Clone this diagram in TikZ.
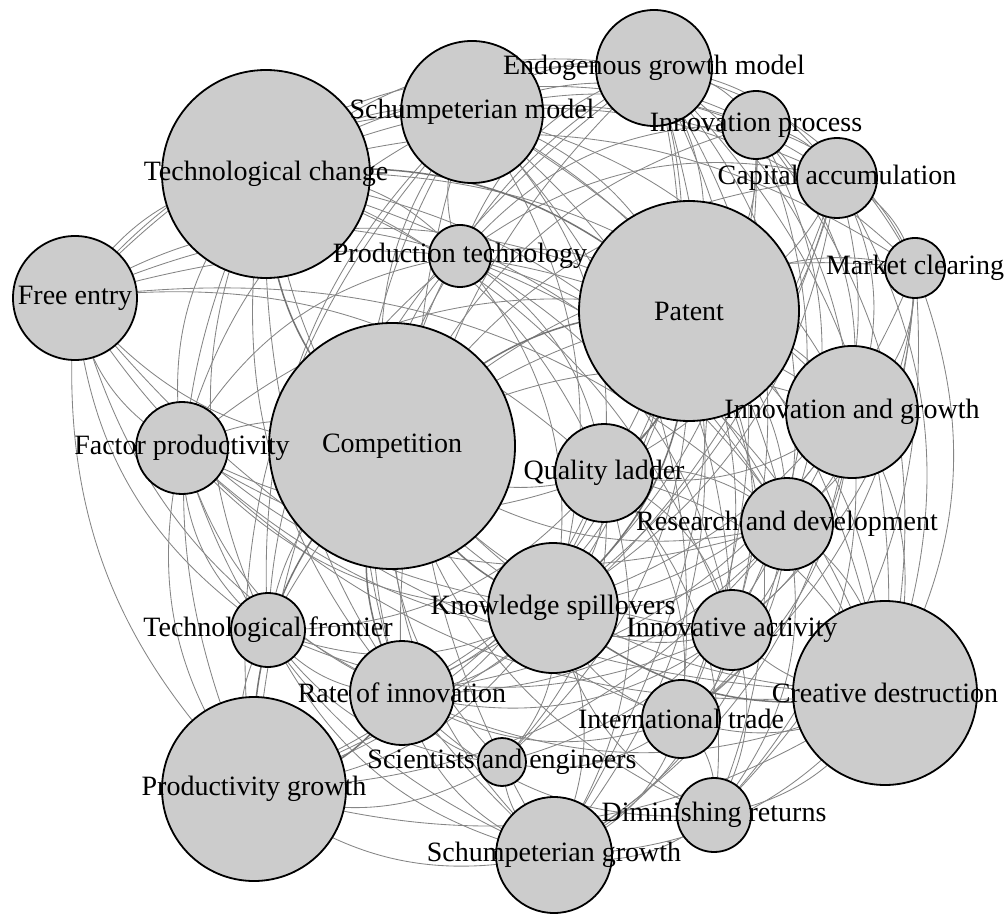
\documentclass[tikz,border=0pt]{standalone}
\usepackage{fontspec}
\setmainfont{Liberation Serif}
\usetikzlibrary{backgrounds}
\tikzset{
  vtx/.style={circle, draw=black, line width=1.8pt, fill=gray!40, inner sep=0pt},
  lbl/.style={inner sep=0pt, text=black, font=\fontsize{28}{30}\selectfont},
  edge/.style={draw=black!48, line width=0.85pt},
  thick edge/.style={draw=black!55, line width=1.5pt}
}
\begin{document}
\begin{tikzpicture}[x=100pt,y=100pt]
\useasboundingbox (0,0) rectangle (10.08,9.14);
% vertices
\foreach \n/\x/\y/\r in {
  tc/2.66/7.40/104, sm/4.72/8.02/71, eg/6.54/8.46/58, ip/7.56/7.89/34,
  ca/8.37/7.36/40, mc/9.15/6.46/30, pa/6.89/6.03/110, fe/0.75/6.16/62,
  pt/4.60/6.58/31, co/3.92/4.68/123, fp/1.82/4.66/46, ig/8.52/5.02/66,
  ql/6.04/4.41/49, rd/7.87/3.90/46, ks/5.53/3.06/65, tf/2.68/2.84/37,
  ia/7.32/2.84/40, cd/8.85/2.21/92, ri/4.02/2.21/52, it/6.81/1.95/39,
  se/5.02/1.52/24, pg/2.54/1.25/92, dr/7.14/0.99/37, sg/5.54/0.59/58}{
  \expandafter\xdef\csname X\n\endcsname{\x}
  \expandafter\xdef\csname Y\n\endcsname{\y}
  \node[vtx, minimum size=\r*2pt] (\n) at (\x,\y) {};
}
% edges (behind the vertices)
\begin{pgfonlayer}{background}
\foreach \a/\b in {
  tc/sm, tc/eg, tc/ip, tc/ca, tc/fe, tc/pt, tc/fp, tc/ig, tc/ql, tc/rd, tc/ks, tc/tf, tc/ia, tc/cd, tc/ri, tc/pg, tc/sg, tc/mc,
  sm/eg, sm/ip, sm/ca, sm/mc, sm/pa, sm/fe, sm/pt, sm/co, sm/fp, sm/ig, sm/ql, sm/rd, sm/ks, sm/tf, sm/ia, sm/cd, sm/ri, sm/it, sm/pg, sm/sg,
  eg/ip, eg/ca, eg/mc, eg/pa, eg/pt, eg/co, eg/fe, eg/ig, eg/ql, eg/rd, eg/ks, eg/ia, eg/cd, eg/ri, eg/it, eg/pg, eg/sg,
  ip/ca, ip/pa, ip/pt, ip/co, ip/ig, ip/ql, ip/rd, ip/ks, ip/ia, ip/cd, ip/mc,
  ca/mc, ca/pa, ca/pt, ca/co, ca/ig, ca/ql, ca/rd, ca/ks, ca/cd, ca/ri, ca/pg,
  mc/pa, mc/ig, mc/rd, mc/cd, mc/ia, mc/ks, mc/co, mc/dr, mc/it,
  pa/fe, pa/pt, pa/fp, pa/ig, pa/rd, pa/tf, pa/ia, pa/cd, pa/ri, pa/it, pa/se, pa/pg, pa/dr, pa/sg,
  fe/pt, fe/co, fe/fp, fe/ig, fe/ql, fe/rd, fe/ks, fe/tf, fe/ri, fe/pg, fe/cd,
  pt/co, pt/fp, pt/ql, pt/ks, pt/ri, pt/rd, pt/ia, pt/cd, pt/tf,
  co/fp, co/ig, co/ql, co/rd, co/tf, co/ia, co/cd, co/it, co/se, co/dr, co/sg,
  fp/ql, fp/ks, fp/tf, fp/ri, fp/rd, fp/pg, fp/sg, fp/ia, fp/cd,
  ig/ql, ig/rd, ig/ks, ig/ia, ig/cd, ig/ri, ig/it, ig/dr, ig/sg,
  ql/rd, ql/ks, ql/tf, ql/ia, ql/cd, ql/ri, ql/it, ql/se, ql/pg, ql/sg, ql/dr,
  rd/ks, rd/ia, rd/cd, rd/ri, rd/it, rd/se, rd/pg, rd/dr, rd/sg,
  ks/tf, ks/ia, ks/ri, ks/it, ks/se, ks/pg, ks/dr, ks/sg,
  tf/ri, tf/pg, tf/sg, tf/ia, tf/se,
  ia/cd, ia/ri, ia/it, ia/sg, ia/dr,
  cd/ri, cd/it, cd/pg, cd/dr, cd/sg,
  ri/it, ri/se, ri/sg, ri/dr,
  it/se, it/dr, it/sg, se/sg, se/pg, pg/sg, dr/sg}{
  \pgfmathsetmacro\cr{(\csname X\a\endcsname-5.1)*(\csname Y\b\endcsname-4.6)-(\csname Y\a\endcsname-4.6)*(\csname X\b\endcsname-5.1)}
  \pgfmathsetmacro\bd{\cr<0 ? 25 : -25}
  \draw[edge] (\a.center) to[bend left=\bd] (\b.center);
}
\foreach \a/\b in {tc/pa, tc/co, co/pa, co/ks, co/ri, ks/cd, pa/ql, pa/ks, ri/pg, co/pg}{
  \pgfmathsetmacro\cr{(\csname X\a\endcsname-5.1)*(\csname Y\b\endcsname-4.6)-(\csname Y\a\endcsname-4.6)*(\csname X\b\endcsname-5.1)}
  \pgfmathsetmacro\bd{\cr<0 ? 25 : -25}
  \draw[thick edge] (\a.center) to[bend left=\bd] (\b.center);
}
\end{pgfonlayer}
% labels (on top of all vertices)
\node[lbl] (tc-l) at (tc) {Technological change};
\node[lbl] (sm-l) at (sm) {Schumpeterian model};
\node[lbl] (eg-l) at (eg) {Endogenous growth model};
\node[lbl] (ip-l) at (ip) {Innovation process};
\node[lbl] (ca-l) at (ca) {Capital accumulation};
\node[lbl] (mc-l) at (mc) {Market clearing};
\node[lbl] (pa-l) at (pa) {Patent};
\node[lbl] (fe-l) at (fe) {Free entry};
\node[lbl] (pt-l) at (pt) {Production technology};
\node[lbl] (co-l) at (co) {Competition};
\node[lbl] (fp-l) at (fp) {Factor productivity};
\node[lbl] (ig-l) at (ig) {Innovation and growth};
\node[lbl] (ql-l) at (ql) {Quality ladder};
\node[lbl] (rd-l) at (rd) {Research and development};
\node[lbl] (ks-l) at (ks) {Knowledge spillovers};
\node[lbl] (tf-l) at (tf) {Technological frontier};
\node[lbl] (ia-l) at (ia) {Innovative activity};
\node[lbl] (cd-l) at (cd) {Creative destruction};
\node[lbl] (ri-l) at (ri) {Rate of innovation};
\node[lbl] (it-l) at (it) {International trade};
\node[lbl] (se-l) at (se) {Scientists and engineers};
\node[lbl] (pg-l) at (pg) {Productivity growth};
\node[lbl] (dr-l) at (dr) {Diminishing returns};
\node[lbl] (sg-l) at (sg) {Schumpeterian growth};
\end{tikzpicture}
\end{document}
